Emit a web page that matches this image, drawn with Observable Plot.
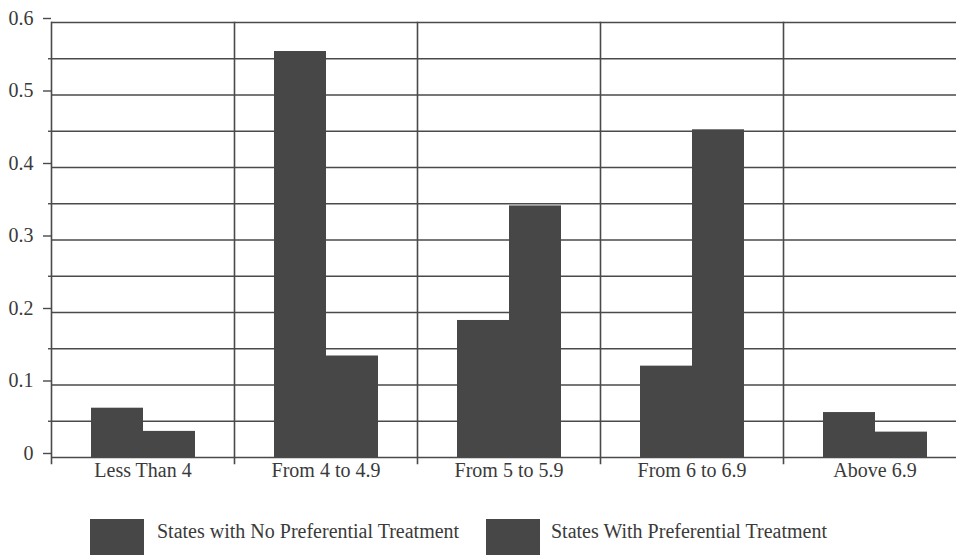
<!DOCTYPE html>
<html>
<head>
<meta charset="utf-8">
<script src="https://cdn.jsdelivr.net/npm/d3@7"></script>
<script src="https://cdn.jsdelivr.net/npm/@observablehq/plot@0.6"></script>
<style>
  html, body { margin: 0; padding: 0; background: #fff; }
  #wrap { width: 956px; height: 555px; overflow: hidden; position: relative; font-family: "Liberation Serif", "Times New Roman", serif; color: #3a3a3a; }
  #chart { width: 956px; overflow: hidden; }
  #legend { position: absolute; top: 519px; left: 0; width: 956px; height: 40px; }
  .sw { position: absolute; top: 0; width: 54px; height: 40px; background: #474747; }
  .lt { position: absolute; top: 2px; font-size: 20px; line-height: 20px; white-space: nowrap; color: #3a3a3a; }
</style>
</head>
<body>
<div id="wrap">
  <div id="chart"></div>
  <div id="legend"></div>
</div>
<script>
const categories = ["Less Than 4", "From 4 to 4.9", "From 5 to 5.9", "From 6 to 6.9", "Above 6.9"];
const seriesNames = ["States with No Preferential Treatment", "States With Preferential Treatment"];
const noPreferential = [0.068, 0.560, 0.189, 0.126, 0.062];
const withPreferential = [0.036, 0.140, 0.347, 0.452, 0.035];
const majorTicks = [0, 0.1, 0.2, 0.3, 0.4, 0.5, 0.6];
const minorTicks = [0.05, 0.15, 0.25, 0.35, 0.45, 0.55];
const gridTicks = [0, 0.05, 0.1, 0.15, 0.2, 0.25, 0.3, 0.35, 0.4, 0.45, 0.5, 0.55, 0.6];

const rows = [];
categories.forEach((c, i) => {
  rows.push({category: c, series: seriesNames[0], value: noPreferential[i]});
  rows.push({category: c, series: seriesNames[1], value: withPreferential[i]});
});

const lineColor = "#4a4a4a";
const barColor = "#474747";

const chart = Plot.plot({
  width: 966,
  height: 492,
  marginLeft: 51,
  marginRight: 0,
  marginTop: 22,
  marginBottom: 35,
  style: {fontFamily: "'Liberation Serif', 'Times New Roman', serif", fontSize: "20px", color: "#3a3a3a", background: "#fff", maxWidth: "none", overflow: "visible"},
  fx: {domain: categories, padding: 0},
  x: {domain: seriesNames, paddingInner: 0, paddingOuter: 0.74, axis: null},
  y: {domain: [0, 0.6]},
  marks: [
    Plot.ruleY(gridTicks, {stroke: lineColor, strokeWidth: 1.4, strokeOpacity: 1}),
    Plot.frame({anchor: "left", stroke: lineColor, strokeWidth: 1.6, strokeOpacity: 1, insetBottom: -6}),
    Plot.barY(rows, {fx: "category", x: "series", y: "value", fill: barColor}),
    Plot.axisY({ticks: majorTicks, tickSize: 8, tickPadding: 10, dy: -4, stroke: lineColor, strokeWidth: 1.4, strokeOpacity: 1, fontSize: 20, fill: "#3a3a3a", label: null,
      tickFormat: d => d === 0 ? "0" : d.toFixed(1)}),
    Plot.axisY({ticks: minorTicks, tickSize: 3, stroke: lineColor, strokeWidth: 1.4, strokeOpacity: 1, text: null, label: null}),
    Plot.axisFx({anchor: "bottom", tickSize: 0, tickPadding: 5, fontSize: 20, fill: "#3a3a3a", label: null})
  ]
});
document.getElementById("chart").appendChild(chart);

const legend = document.getElementById("legend");
const legendSwatchX = [90, 486];
const legendTextX = [157, 551];
seriesNames.forEach((s, i) => {
  const sw = document.createElement("div");
  sw.className = "sw";
  sw.style.left = legendSwatchX[i] + "px";
  legend.appendChild(sw);
  const t = document.createElement("div");
  t.className = "lt";
  t.style.left = legendTextX[i] + "px";
  t.textContent = s;
  legend.appendChild(t);
});
</script>
</body>
</html>
